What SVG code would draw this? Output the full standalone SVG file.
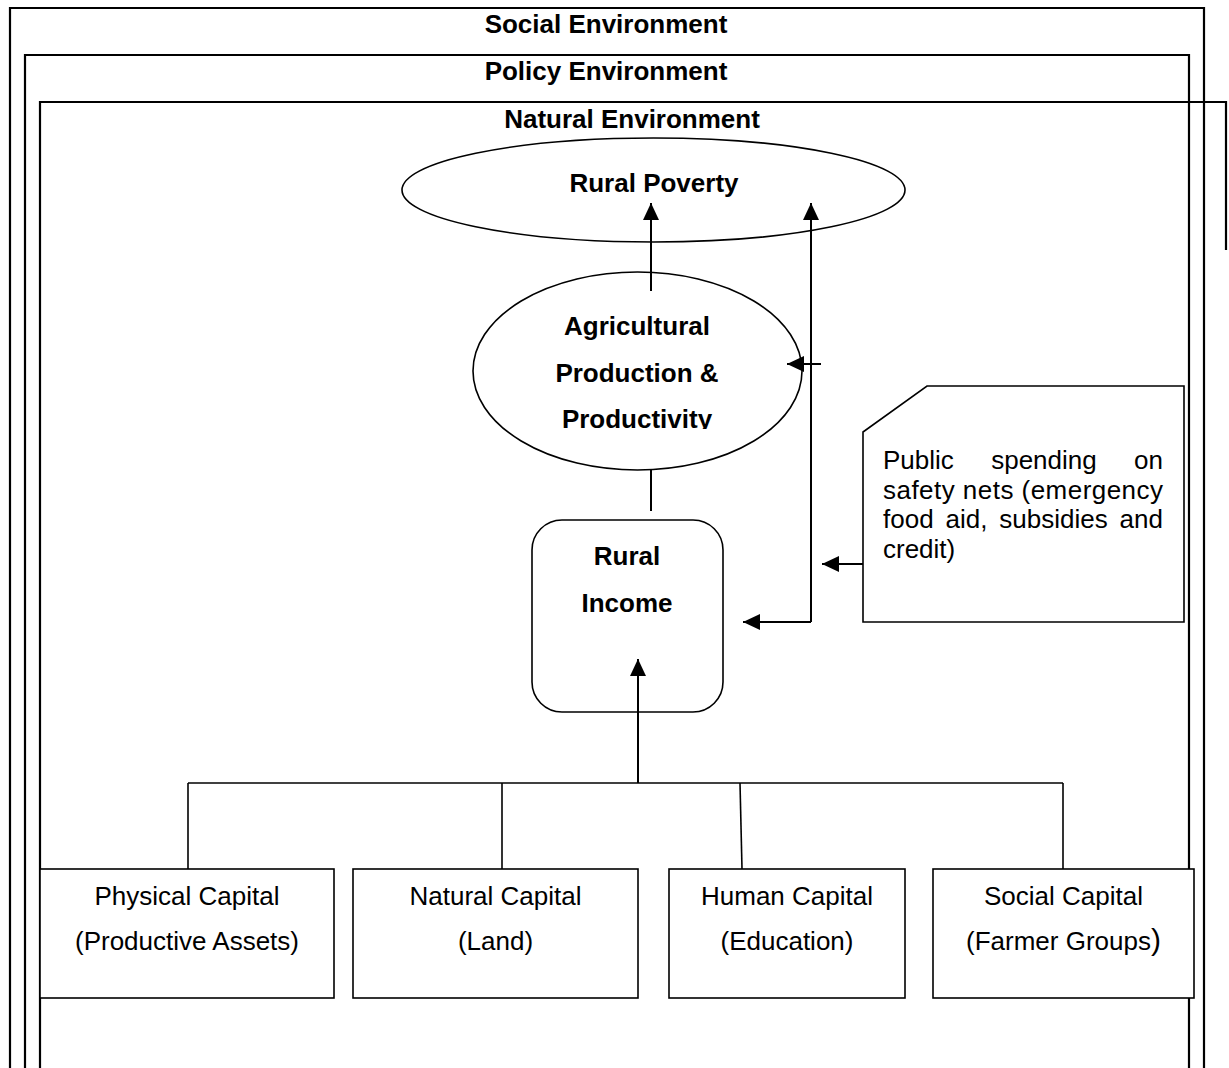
<svg xmlns="http://www.w3.org/2000/svg" width="1229" height="1068" viewBox="0 0 1229 1068">
<style>
.frame{fill:none;stroke:#000;stroke-width:2.2}
.shape{fill:#fff;stroke:#000;stroke-width:1.6}
.conn{fill:none;stroke:#000;stroke-width:2}
.tree{fill:none;stroke:#000;stroke-width:1.6}
.b{font-family:"Liberation Sans",Arial,sans-serif;font-size:26px;font-weight:bold;fill:#000}
.r{font-family:"Liberation Sans",Arial,sans-serif;font-size:26px;fill:#000}
.c{text-anchor:middle}
</style>
<defs>
<marker id="ah" viewBox="0 0 17 16" refX="17" refY="8" markerWidth="17" markerHeight="16" markerUnits="userSpaceOnUse" orient="auto">
<path d="M0,0 L17,8 L0,16 z" fill="#000"/>
</marker>
<clipPath id="agclip"><rect x="400" y="290" width="480" height="139"/></clipPath>
</defs>
<rect width="1229" height="1068" fill="#fff"/>
<g id="social-env">
<path class="frame" d="M10,1080 V8 H1204 V1080"/>
<text class="b c" x="606" y="33">Social Environment</text>
</g>
<g id="policy-env">
<path class="frame" d="M25,1080 V55 H1189 V1080"/>
<text class="b c" x="606" y="80">Policy Environment</text>
</g>
<g id="natural-env">
<path class="frame" d="M40,1080 V102 H1226 V250"/>
<text class="b c" x="632" y="128">Natural Environment</text>
</g>
<g id="rural-poverty">
<ellipse class="shape" cx="653.5" cy="190" rx="251.5" ry="52"/>
<text class="b c" x="654" y="192">Rural Poverty</text>
</g>
<g id="agri">
<ellipse class="shape" cx="637.5" cy="371" rx="164.5" ry="99"/>
<g clip-path="url(#agclip)">
<text class="b c" x="637" y="335">Agricultural</text>
<text class="b c" x="637" y="381.5">Production &amp;</text>
<text class="b c" x="637" y="428">Productivity</text>
</g>
</g>
<g id="rural-income">
<rect class="shape" x="532" y="520" width="191" height="192" rx="30" ry="30"/>
<text class="b c" x="627" y="565">Rural</text>
<text class="b c" x="627" y="612">Income</text>
</g>
<g id="safety-nets">
<path class="shape" d="M927,386 H1184 V622 H863 V432 Z"/>
<text class="r" y="469"><tspan x="883">Public</tspan><tspan x="991.2">spending</tspan><tspan x="1163" text-anchor="end">on</tspan></text>
<text class="r" x="883" y="498.5" textLength="280" lengthAdjust="spacing">safety nets (emergency</text>
<text class="r" y="528"><tspan x="883">food</tspan><tspan x="945.5">aid,</tspan><tspan x="999.3">subsidies</tspan><tspan x="1163" text-anchor="end">and</tspan></text>
<text class="r" x="883" y="557.5">credit)</text>
</g>
<g id="physical-capital">
<rect class="shape" x="40" y="869" width="294" height="129"/>
<text class="r c" x="187" y="905">Physical Capital</text>
<text class="r c" x="187" y="950">(Productive Assets)</text>
</g>
<g id="natural-capital">
<rect class="shape" x="353" y="869" width="285" height="129"/>
<text class="r c" x="495.5" y="905">Natural Capital</text>
<text class="r c" x="495.5" y="950">(Land)</text>
</g>
<g id="human-capital">
<rect class="shape" x="669" y="869" width="236" height="129"/>
<text class="r c" x="787" y="905">Human Capital</text>
<text class="r c" x="787" y="950">(Education)</text>
</g>
<g id="social-capital">
<rect class="shape" x="933" y="869" width="261" height="129"/>
<text class="r c" x="1063.5" y="905">Social Capital</text>
<text class="r c" x="1063.5" y="950">(Farmer Groups<tspan font-size="30px">)</tspan></text>
</g>
<g id="connectors">
<line class="conn" x1="651" y1="291" x2="651" y2="203" marker-end="url(#ah)"/>
<polyline class="conn" points="811,622 811,203" marker-end="url(#ah)"/>
<line class="conn" x1="811" y1="622" x2="743" y2="622" marker-end="url(#ah)"/>
<line class="conn" x1="821" y1="364" x2="787" y2="364" marker-end="url(#ah)"/>
<line class="conn" x1="863" y1="564" x2="822" y2="564" marker-end="url(#ah)"/>
<line class="conn" x1="651" y1="470" x2="651" y2="511"/>
<line class="conn" x1="638" y1="783" x2="638" y2="659" marker-end="url(#ah)"/>
<line class="tree" x1="188" y1="783" x2="1063" y2="783"/>
<line class="tree" x1="188" y1="783" x2="188" y2="869"/>
<line class="tree" x1="502" y1="783" x2="502" y2="869"/>
<line class="tree" x1="740" y1="783" x2="742" y2="869"/>
<line class="tree" x1="1063" y1="783" x2="1063" y2="869"/>
</g>
</svg>
